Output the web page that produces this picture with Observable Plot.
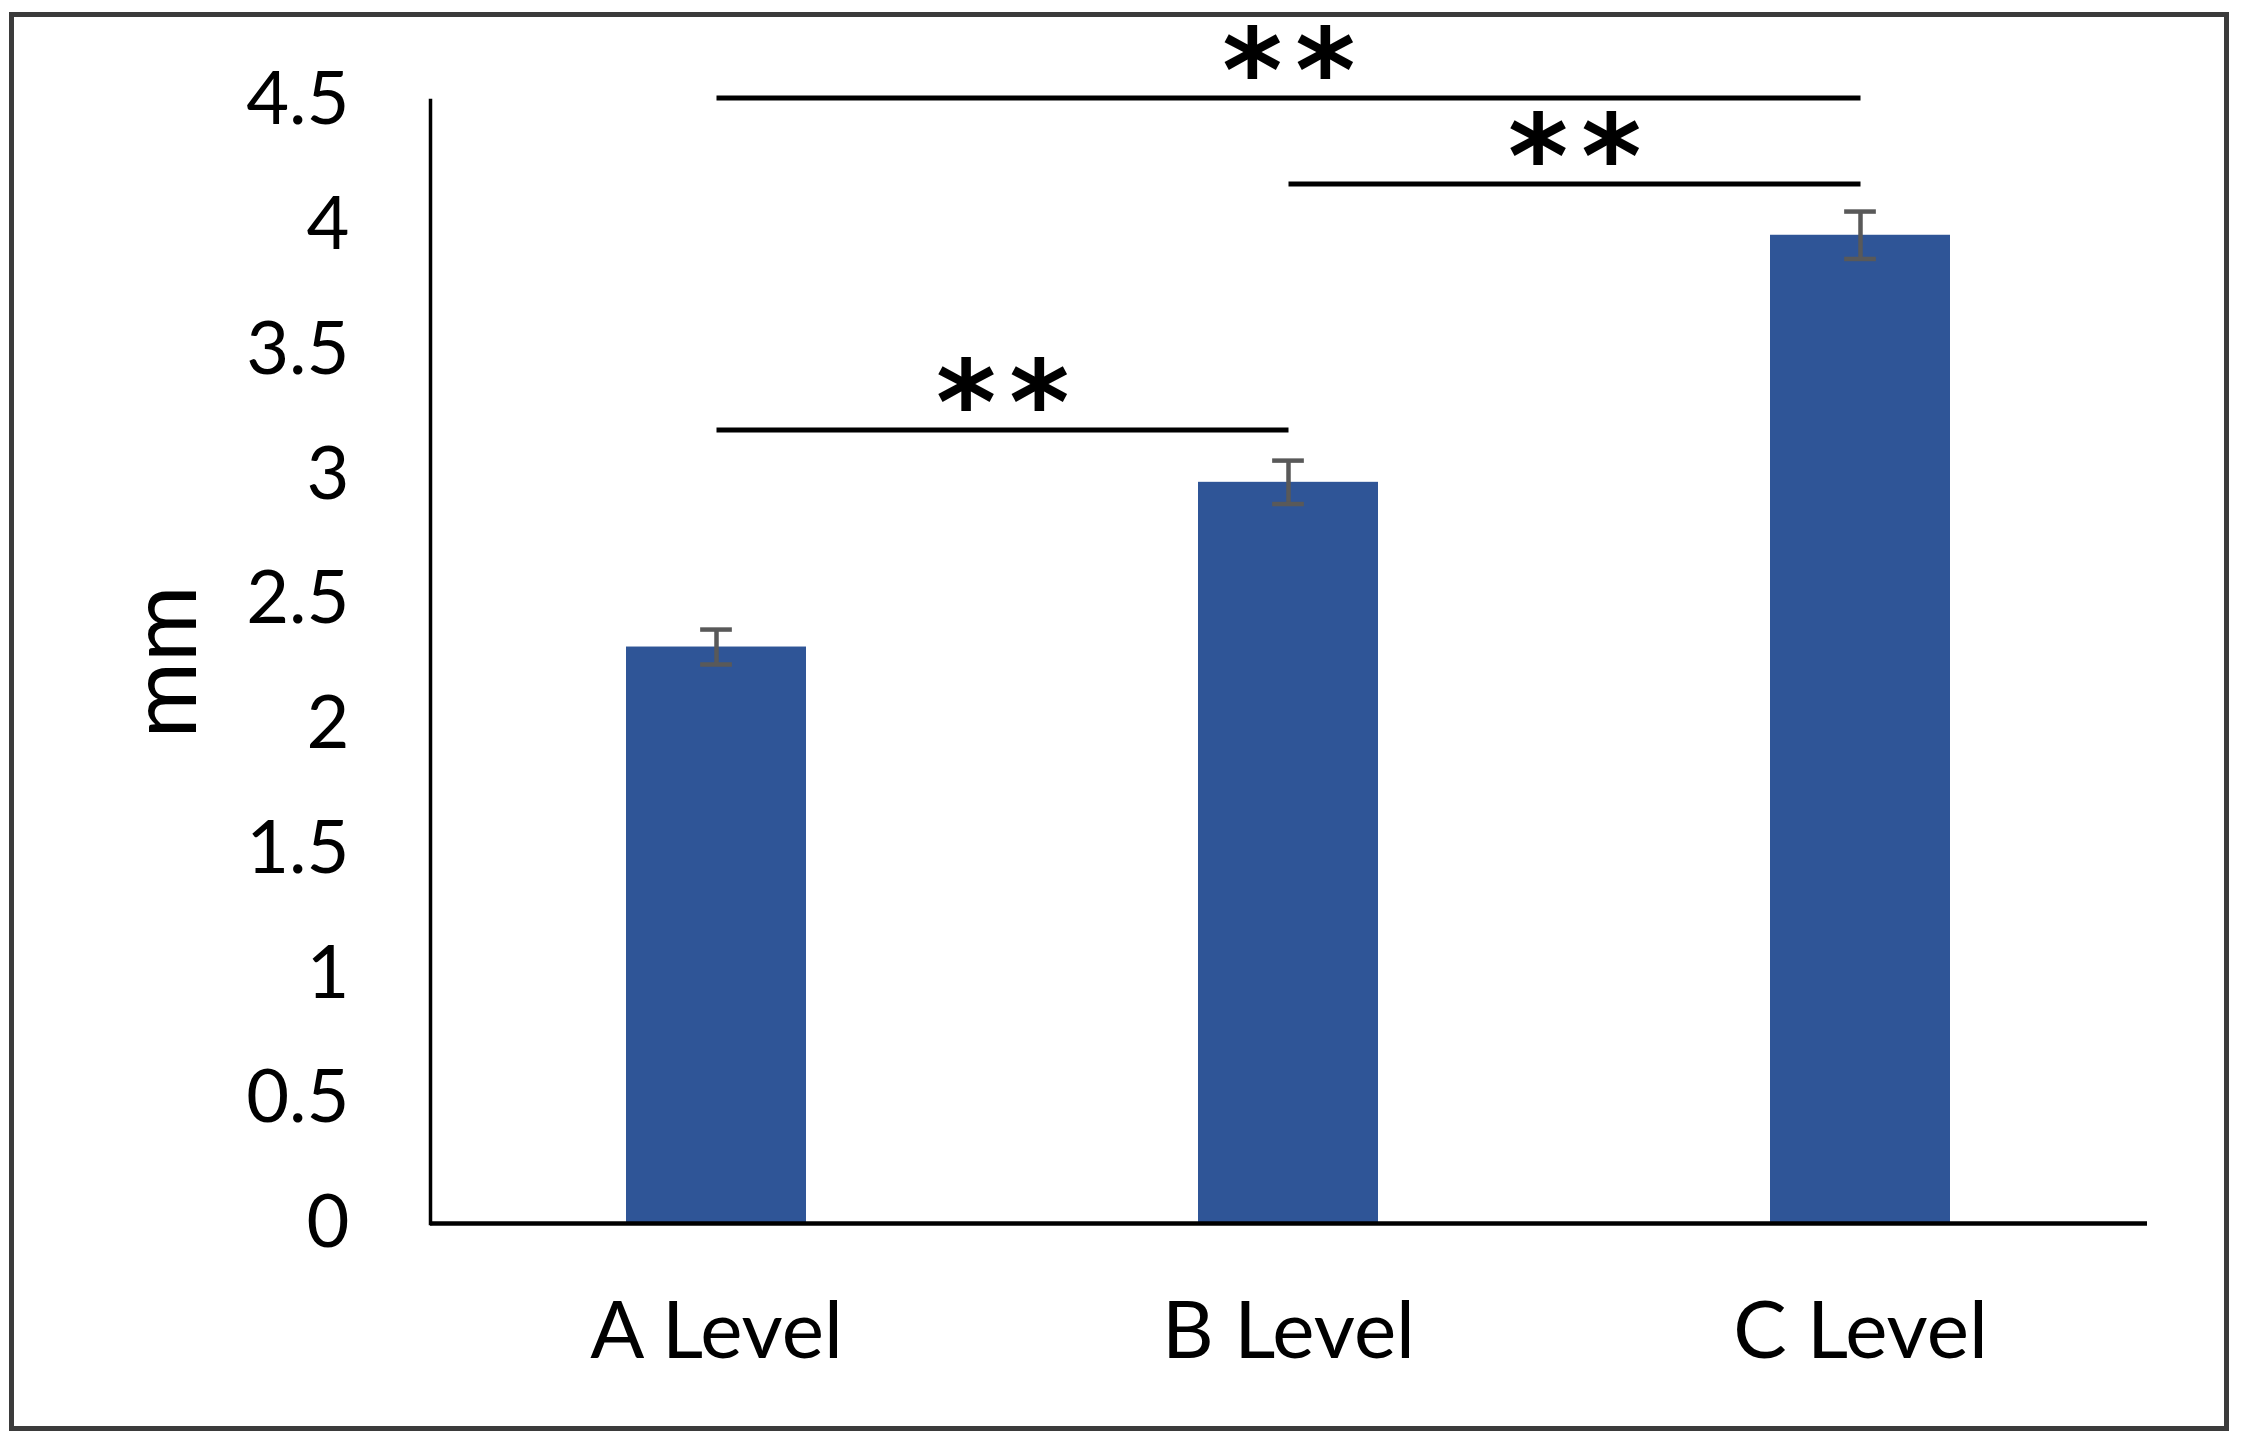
<!DOCTYPE html>
<html><head><meta charset="utf-8">
<script src="https://cdn.jsdelivr.net/npm/d3@7"></script>
<script src="https://cdn.jsdelivr.net/npm/@observablehq/plot@0.6"></script>
<style>
html,body{margin:0;padding:0;background:#fff;}
#wrap{position:relative;width:2244px;height:1452px;}
#border{position:absolute;left:9px;top:12px;width:2210px;height:1409px;border:5px solid #3b3b3b;pointer-events:none;}
</style></head><body><div id="wrap"><div id="border"></div></div>
<script>
// ---- data ----
const categories = ["A Level", "B Level", "C Level"];
const means = [2.31, 2.97, 3.96];
const errors = [0.07, 0.087, 0.095];
const yTicks = [0, 0.5, 1, 1.5, 2, 2.5, 3, 3.5, 4, 4.5];
const sigFrom = ["A Level", "B Level", "A Level"];
const sigTo = ["C Level", "C Level", "B Level"];
const sigLevel = [4.51, 4.165, 3.18];
const sigLabel = ["**", "**", "**"];
const yLabel = "mm";

// ---- tables ----
const bars = categories.map((c, i) => ({cat: c, mean: means[i], lo: means[i] - errors[i], hi: means[i] + errors[i]}));
const sigs = sigFrom.map((f, i) => ({from: f, to: sigTo[i], level: sigLevel[i], label: sigLabel[i],
  span: categories.indexOf(sigTo[i]) - categories.indexOf(f)}));

// ---- layout ----
const W = 2244, H = 1452, mL = 430, mR = 97, mT = 100, mB = 229;
const pIn = 0.685, pOut = pIn / 2;
const step = (W - mL - mR) / (categories.length - pIn + 2 * pOut);
const bw = step * (1 - pIn);
const capW = 32;
const errColor = "#595959";
const starSpacing = 13;

const chart = Plot.plot({
  width: W, height: H,
  marginLeft: mL, marginRight: mR, marginTop: mT, marginBottom: mB,
  style: {fontFamily: "Lato, 'Open Sans', sans-serif", color: "#000", background: "transparent"},
  x: {domain: categories, paddingInner: pIn, paddingOuter: pOut},
  y: {domain: [0, 4.5]},
  marks: [
    Plot.barY(bars, {x: "cat", y: "mean", fill: "#2F5597"}),
    Plot.ruleX(bars, {x: "cat", y1: "lo", y2: "hi", stroke: errColor, strokeWidth: 4.5}),
    Plot.tickY(bars, {x: "cat", y: "hi", stroke: errColor, strokeWidth: 4.5, insetLeft: (bw - capW) / 2, insetRight: (bw - capW) / 2}),
    Plot.tickY(bars, {x: "cat", y: "lo", stroke: errColor, strokeWidth: 4.5, insetLeft: (bw - capW) / 2, insetRight: (bw - capW) / 2}),
    Plot.ruleY([0], {stroke: "#000", strokeWidth: 4.5}),
    Plot.frame({anchor: "left", stroke: "#000", strokeWidth: 3.5}),
    Plot.axisY({ticks: yTicks, tickSize: 0, tickPadding: 81, tickFormat: d => String(d), fontSize: 74, label: null}),
    Plot.axisX({tickSize: 0, tickPadding: 78, fontSize: 80, label: null}),
    Plot.link(sigs, {x1: "from", x2: "to", y1: "level", y2: "level", stroke: "#000", strokeWidth: 5}),
    ...sigs.map(s => Plot.text([s], {x: "from", y: "level", text: "label", dx: s.span * step / 2 + starSpacing / 2, dy: 13,
      fontSize: 115, fontWeight: "bold", fontFamily: "'DejaVu Sans'", lineAnchor: "bottom", fill: "#000"})),
    Plot.text([yLabel], {frameAnchor: "left", textAnchor: "middle", text: d => d, rotate: -90, dx: -264, fontSize: 93, fill: "#000"})
  ]
});
d3.select(chart).selectAll("text").filter(function () { return sigLabel.includes(this.textContent); })
  .attr("letter-spacing", starSpacing);
document.getElementById("wrap").prepend(chart);
</script></body></html>
